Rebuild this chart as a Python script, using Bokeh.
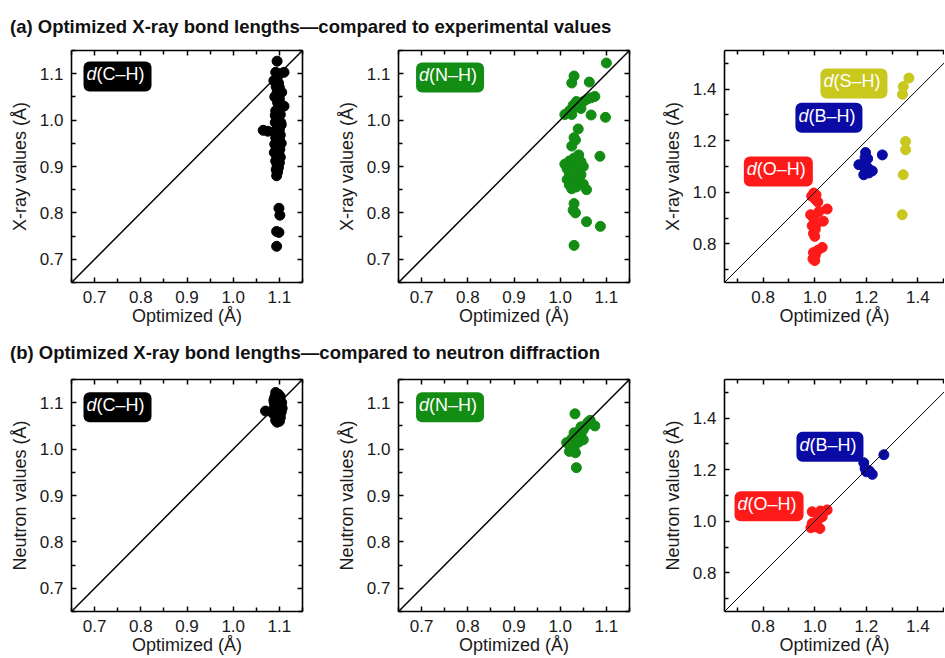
from bokeh.plotting import figure
from bokeh.models import (Label, Slope, LinearAxis, FixedTicker, PrintfTickFormatter, Div, Range1d,
                          CustomLabelingPolicy)
from bokeh.layouts import column, row
from bokeh.embed import file_html
from bokeh.resources import INLINE

# ---------------- data ----------------
title_a_text = "(a) Optimized X-ray bond lengths\u2014compared to experimental values"
title_b_text = "(b) Optimized X-ray bond lengths\u2014compared to neutron diffraction"
x_label = "Optimized (\u00c5)"
y_label_a = "X-ray values (\u00c5)"
y_label_b = "Neutron values (\u00c5)"

ticks_small = [0.7, 0.8, 0.9, 1.0, 1.1]
minor_small = [0.65, 0.75, 0.85, 0.95, 1.05, 1.15]
ticks_large = [0.8, 1.0, 1.2, 1.4]
minor_large = [0.7, 0.9, 1.1, 1.3, 1.5]

# (a) C-H vs X-ray
ch_a_x = [1.095, 1.092, 1.110, 1.100, 1.095, 1.098, 1.093, 1.100, 1.095, 1.090, 1.100, 1.096, 1.110, 1.098,
          1.092, 1.102, 1.095, 1.099, 1.091, 1.104, 1.096, 1.100, 1.065, 1.075, 1.088, 1.094, 1.102, 1.097,
          1.092, 1.100, 1.095, 1.104, 1.090, 1.098, 1.093, 1.101, 1.096, 1.089, 1.099, 1.094, 1.102, 1.097,
          1.092, 1.100, 1.095, 1.098, 1.093, 1.096, 1.094, 1.099, 1.101, 1.094, 1.099, 1.094, 1.105, 1.088,
          1.103, 1.091]
ch_a_y = [1.127, 1.103, 1.103, 1.100, 1.090, 1.080, 1.072, 1.070, 1.060, 1.050, 1.045, 1.038, 1.030, 1.025,
          1.020, 1.012, 1.005, 0.998, 0.995, 0.990, 0.985, 0.980, 0.978, 0.976, 0.975, 0.972, 0.968, 0.965,
          0.962, 0.958, 0.955, 0.950, 0.948, 0.945, 0.940, 0.937, 0.933, 0.930, 0.927, 0.923, 0.920, 0.915,
          0.912, 0.908, 0.903, 0.898, 0.893, 0.888, 0.880, 0.810, 0.795, 0.760, 0.758, 0.728, 1.060, 1.085,
          0.995, 1.010]

# (a) N-H vs X-ray
nh_a_x = [1.100, 1.030, 1.025, 1.063, 1.075, 1.067, 1.058, 1.050, 1.035, 1.028, 1.040, 1.020, 1.045, 1.010,
          1.025, 1.067, 1.098, 1.039, 1.030, 1.025, 1.033, 1.086, 1.040, 1.030, 1.020, 1.045, 1.010, 1.035,
          1.050, 1.025, 1.015, 1.040, 1.030, 1.020, 1.045, 1.035, 1.025, 1.015, 1.040, 1.030, 1.050, 1.020,
          1.035, 1.057, 1.025, 1.030, 1.028, 1.033, 1.057, 1.087, 1.030]
nh_a_y = [1.123, 1.095, 1.080, 1.082, 1.051, 1.048, 1.045, 1.040, 1.040, 1.032, 1.028, 1.020, 1.025, 1.012,
          1.012, 1.011, 1.006, 0.981, 0.962, 0.944, 0.957, 0.922, 0.925, 0.918, 0.912, 0.910, 0.905, 0.902,
          0.900, 0.898, 0.895, 0.892, 0.888, 0.885, 0.882, 0.878, 0.875, 0.872, 0.868, 0.865, 0.862, 0.860,
          0.856, 0.850, 0.852, 0.820, 0.806, 0.800, 0.781, 0.771, 0.730]

# (a) O-H, B-H, S-H vs X-ray
oh_a_x = [0.996, 0.988, 1.005, 1.003, 1.012, 1.048, 1.016, 0.984, 0.995, 1.033, 1.000, 0.990, 1.002, 1.010,
          0.995, 1.000, 1.029, 1.012, 0.995, 1.002, 0.993, 1.000]
oh_a_y = [0.997, 0.985, 0.990, 0.972, 0.962, 0.935, 0.925, 0.913, 0.900, 0.888, 0.887, 0.870, 0.856, 0.880,
          0.840, 0.829, 0.786, 0.775, 0.766, 0.755, 0.742, 0.735]
bh_a_x = [1.197, 1.195, 1.205, 1.262, 1.171, 1.190, 1.205, 1.223, 1.198, 1.190, 1.210]
bh_a_y = [1.154, 1.135, 1.130, 1.145, 1.107, 1.100, 1.095, 1.083, 1.085, 1.068, 1.075]
sh_a_x = [1.365, 1.343, 1.340, 1.352, 1.352, 1.343, 1.339]
sh_a_y = [1.443, 1.410, 1.380, 1.197, 1.165, 1.068, 0.913]

# (b) C-H vs neutron
ch_b_x = [1.070, 1.092, 1.098, 1.090, 1.102, 1.095, 1.088, 1.100, 1.105, 1.093, 1.097, 1.090, 1.103, 1.095,
          1.099, 1.087, 1.092, 1.104, 1.096, 1.090, 1.101, 1.094, 1.098, 1.092, 1.100, 1.095, 1.085, 1.106,
          1.089, 1.102]
ch_b_y = [1.082, 1.122, 1.118, 1.112, 1.113, 1.108, 1.105, 1.104, 1.100, 1.098, 1.095, 1.092, 1.092, 1.088,
          1.085, 1.085, 1.080, 1.080, 1.077, 1.073, 1.072, 1.068, 1.065, 1.062, 1.060, 1.058, 1.078, 1.088,
          1.100, 1.068]

# (b) N-H vs neutron
nh_b_x = [1.032, 1.065, 1.060, 1.075, 1.055, 1.045, 1.050, 1.040, 1.030, 1.045, 1.035, 1.025, 1.050, 1.014,
          1.040, 1.022, 1.030, 1.020, 1.033, 1.035]
nh_b_y = [1.076, 1.062, 1.058, 1.050, 1.050, 1.048, 1.042, 1.038, 1.035, 1.030, 1.025, 1.022, 1.020, 1.014,
          1.015, 1.008, 1.000, 0.995, 0.992, 0.960]

# (b) O-H, B-H vs neutron
oh_b_x = [0.990, 1.022, 1.048, 1.029, 0.990, 0.985, 1.005, 1.020, 1.000, 1.012]
oh_b_y = [1.037, 1.040, 1.044, 1.018, 0.992, 0.975, 0.978, 0.972, 0.985, 1.005]
bh_b_x = [1.190, 1.195, 1.200, 1.223, 1.268, 1.212]
bh_b_y = [1.227, 1.205, 1.192, 1.182, 1.258, 1.195]

# ---------------- styles ----------------
FONT = "Liberation Sans"
TXT = "#1a1a1a"
C_CH = "#000000"
C_NH = "#138c13"
C_OH = "#ff1a1a"
C_BH = "#0a0aa5"
C_SH = "#c8c81e"

NO_LABELS = CustomLabelingPolicy(code="""
    for (const i of indices)
        indices.unset(i)
    return indices
""")


def style_axis(ax, ticks, minor, labels=True, title=None, title_standoff=0):
    ax.ticker = FixedTicker(ticks=ticks, minor_ticks=minor)
    ax.formatter = PrintfTickFormatter(format="%.1f")
    ax.major_tick_in = 5
    ax.major_tick_out = 0
    ax.minor_tick_in = 4
    ax.minor_tick_out = 0
    ax.major_tick_line_width = 1.5
    ax.minor_tick_line_width = 1.5
    ax.axis_line_width = 1.6
    ax.axis_line_color = "black"
    ax.major_tick_line_color = "black"
    ax.minor_tick_line_color = "black"
    if labels:
        ax.major_label_text_font = FONT
        ax.major_label_text_font_size = "17px"
        ax.major_label_text_color = TXT
        ax.major_label_standoff = 8
    else:
        ax.major_label_policy = NO_LABELS
        ax.major_label_text_font_size = "1px"
        ax.major_label_standoff = 0
    if title:
        ax.axis_label = title
        ax.axis_label_text_font = FONT
        ax.axis_label_text_font_size = "18px"
        ax.axis_label_text_font_style = "normal"
        ax.axis_label_text_color = TXT
        ax.axis_label_standoff = title_standoff


def tag(p, x, y, name, color):
    common = dict(x=x, y=y, text_font=FONT, text_font_size="18px", text_color="white",
                  text_baseline="middle", text_align="left", padding=(3, 7, 3, 7))
    p.add_layout(Label(text="\u00a0\u00a0" + name, background_fill_color=color, border_radius=6, **common))
    p.add_layout(Label(text="d", text_font_style="italic", **common))


TOP = 6
BOT = 47
FRAME_H = 232
FIG_H = TOP + FRAME_H + BOT


def panel(width, left, right, xr, yr, ticks, minor, ylab, right_axis=True, diag_w=1.5):
    p = figure(width=width, height=FIG_H, x_range=Range1d(*xr), y_range=Range1d(*yr),
               output_backend="svg", toolbar_location=None,
               min_border_left=left, min_border_right=right, min_border_top=TOP, min_border_bottom=BOT)
    p.grid.visible = False
    p.outline_line_color = None
    p.background_fill_color = "white"
    p.border_fill_color = "white"
    style_axis(p.xaxis[0], ticks, minor, True, x_label, 0)
    style_axis(p.yaxis[0], ticks, minor, True, ylab, 7)
    top_ax = LinearAxis()
    style_axis(top_ax, ticks, minor, False)
    p.add_layout(top_ax, "above")
    if right_axis:
        r_ax = LinearAxis()
        style_axis(r_ax, ticks, minor, False)
        p.add_layout(r_ax, "right")
    p.add_layout(Slope(gradient=1, y_intercept=0, line_color="black", line_width=diag_w))
    return p


SMALL = (0.65, 1.15)
WIDE_X = (0.65, 1.503)
WIDE_Y = (0.65, 1.55)

# Row (a)
p1 = panel(314, 71, 12, SMALL, SMALL, ticks_small, minor_small, y_label_a)
p1.scatter(ch_a_x, ch_a_y, size=10, color=C_CH)
tag(p1, 0.676, 1.094, "(C\u2013H)", C_CH)

p2 = panel(327, 84, 12, SMALL, SMALL, ticks_small, minor_small, y_label_a)
p2.scatter(nh_a_x, nh_a_y, size=10, color=C_NH)
tag(p2, 0.688, 1.092, "(N\u2013H)", C_NH)

p3 = panel(303, 83, 0, WIDE_X, WIDE_Y, ticks_large, minor_large, y_label_a, right_axis=False, diag_w=1.0)
p3.scatter(oh_a_x, oh_a_y, size=10, color=C_OH)
p3.scatter(bh_a_x, bh_a_y, size=10, color=C_BH)
p3.scatter(sh_a_x, sh_a_y, size=10, color=C_SH)
tag(p3, 1.022, 1.422, "(S\u2013H)", C_SH)
tag(p3, 0.925, 1.289, "(B\u2013H)", C_BH)
tag(p3, 0.725, 1.081, "(O\u2013H)", C_OH)

# Row (b)
p4 = panel(314, 71, 12, SMALL, SMALL, ticks_small, minor_small, y_label_b)
p4.scatter(ch_b_x, ch_b_y, size=10, color=C_CH)
tag(p4, 0.676, 1.090, "(C\u2013H)", C_CH)

p5 = panel(327, 84, 12, SMALL, SMALL, ticks_small, minor_small, y_label_b)
p5.scatter(nh_b_x, nh_b_y, size=10, color=C_NH)
tag(p5, 0.688, 1.090, "(N\u2013H)", C_NH)

p6 = panel(303, 83, 0, WIDE_X, WIDE_Y, ticks_large, minor_large, y_label_b, right_axis=False, diag_w=1.0)
p6.scatter(oh_b_x, oh_b_y, size=10, color=C_OH)
p6.scatter(bh_b_x, bh_b_y, size=10, color=C_BH)
tag(p6, 0.929, 1.289, "(B\u2013H)", C_BH)
tag(p6, 0.689, 1.058, "(O\u2013H)", C_OH)


def title_div(text, h, pad_top):
    html = ('<div style="font-family:\'Liberation Sans\',Arial,sans-serif;font-weight:bold;'
            'font-size:18.5px;line-height:21px;white-space:nowrap;color:#111;'
            'padding:%dpx 0 0 10px;">%s</div>' % (pad_top, text))
    return Div(text=html, width=940, height=h, margin=(0, 0, 0, 0))


layout = column(
    title_div(title_a_text, 44, 16),
    row(p1, p2, p3),
    title_div(title_b_text, 44, 13),
    row(p4, p5, p6),
)

open("out.html", "w").write(file_html(layout, INLINE))
